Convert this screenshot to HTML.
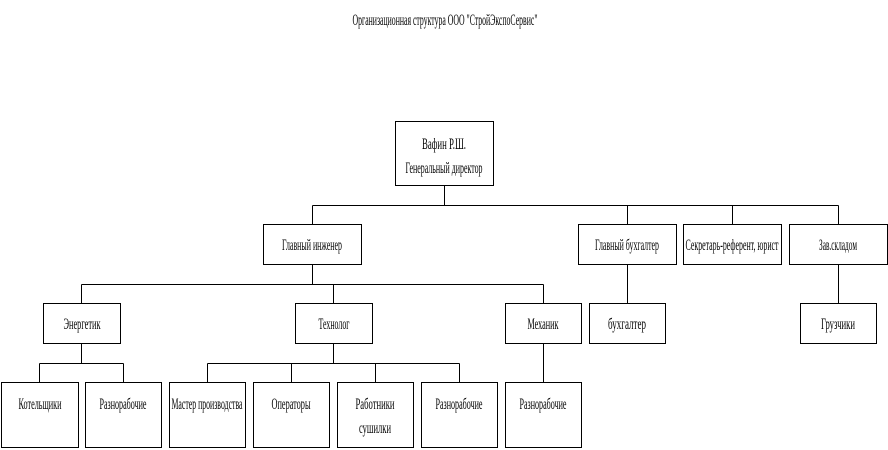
<!DOCTYPE html>
<html><head><meta charset="utf-8"><style>
html,body{margin:0;padding:0;background:#fff;}
svg{display:block;}
text{font-family:"Liberation Serif","DejaVu Serif",serif;font-size:16px;fill:#000;}
</style></head><body>
<svg width="888" height="450" viewBox="0 0 888 450" xmlns="http://www.w3.org/2000/svg">
<g fill="none" stroke="#000" stroke-width="1">
<rect x="395.5" y="121.5" width="98" height="64"/>
<rect x="263.5" y="224.5" width="98" height="40"/>
<rect x="578.5" y="224.5" width="98" height="40"/>
<rect x="683.5" y="224.5" width="98" height="40"/>
<rect x="789.5" y="224.5" width="98" height="40"/>
<rect x="43.5" y="303.5" width="77" height="40"/>
<rect x="295.5" y="303.5" width="77" height="40"/>
<rect x="505.5" y="303.5" width="76" height="40"/>
<rect x="589.5" y="303.5" width="76" height="40"/>
<rect x="800.5" y="303.5" width="76" height="40"/>
<rect x="1.5" y="382.5" width="77" height="65"/>
<rect x="85.5" y="382.5" width="76" height="65"/>
<rect x="169.5" y="382.5" width="76" height="65"/>
<rect x="253.5" y="382.5" width="76" height="65"/>
<rect x="337.5" y="382.5" width="76" height="65"/>
<rect x="421.5" y="382.5" width="76" height="65"/>
<rect x="505.5" y="382.5" width="76" height="65"/>
<path d="M444.5 185.5V205.5M312.5 205.5H838.5M312.5 205.5V224.5M627.5 205.5V224.5M732.5 205.5V224.5M838.5 205.5V224.5"/>
<path d="M312.5 264.5V284.5M81.5 284.5H543.5M81.5 284.5V303.5M333.5 284.5V303.5M543.5 284.5V303.5"/>
<path d="M627.5 264.5V303.5M838.5 264.5V303.5"/>
<path d="M81.5 343.5V363.5M39.5 363.5H123.5M39.5 363.5V382.5M123.5 363.5V382.5"/>
<path d="M333.5 343.5V363.5M207.5 363.5H459.5M207.5 363.5V382.5M291.5 363.5V382.5M375.5 363.5V382.5M459.5 363.5V382.5"/>
<path d="M543.5 343.5V382.5"/>
</g>
<g text-anchor="middle">
<text x="445" y="25" textLength="185" lengthAdjust="spacingAndGlyphs">Организационная структура ООО "СтройЭкспоСервис"</text>
<text x="444" y="149" textLength="44" lengthAdjust="spacingAndGlyphs">Вафин Р.Ш.</text>
<text x="444" y="173" textLength="77" lengthAdjust="spacingAndGlyphs">Генеральный директор</text>
<text x="312" y="250" textLength="60" lengthAdjust="spacingAndGlyphs">Главный инженер</text>
<text x="627" y="250" textLength="64" lengthAdjust="spacingAndGlyphs">Главный бухгалтер</text>
<text x="732" y="250" textLength="93" lengthAdjust="spacingAndGlyphs">Секретарь-референт, юрист</text>
<text x="838" y="250" textLength="38" lengthAdjust="spacingAndGlyphs">Зав.складом</text>
<text x="82" y="329" textLength="37" lengthAdjust="spacingAndGlyphs">Энергетик</text>
<text x="334" y="329" textLength="31" lengthAdjust="spacingAndGlyphs">Технолог</text>
<text x="543" y="329" textLength="31" lengthAdjust="spacingAndGlyphs">Механик</text>
<text x="627" y="329" textLength="38" lengthAdjust="spacingAndGlyphs">бухгалтер</text>
<text x="838" y="329" textLength="34" lengthAdjust="spacingAndGlyphs">Грузчики</text>
<text x="40" y="409" textLength="43" lengthAdjust="spacingAndGlyphs">Котельщики</text>
<text x="123" y="409" textLength="47" lengthAdjust="spacingAndGlyphs">Разнорабочие</text>
<text x="207" y="409" textLength="71" lengthAdjust="spacingAndGlyphs">Мастер производства</text>
<text x="291" y="409" textLength="39" lengthAdjust="spacingAndGlyphs">Операторы</text>
<text x="375" y="409" textLength="39" lengthAdjust="spacingAndGlyphs">Работники</text>
<text x="375" y="433" textLength="32" lengthAdjust="spacingAndGlyphs">сушилки</text>
<text x="459" y="409" textLength="47" lengthAdjust="spacingAndGlyphs">Разнорабочие</text>
<text x="543" y="409" textLength="47" lengthAdjust="spacingAndGlyphs">Разнорабочие</text>
</g>
</svg>
</body></html>
